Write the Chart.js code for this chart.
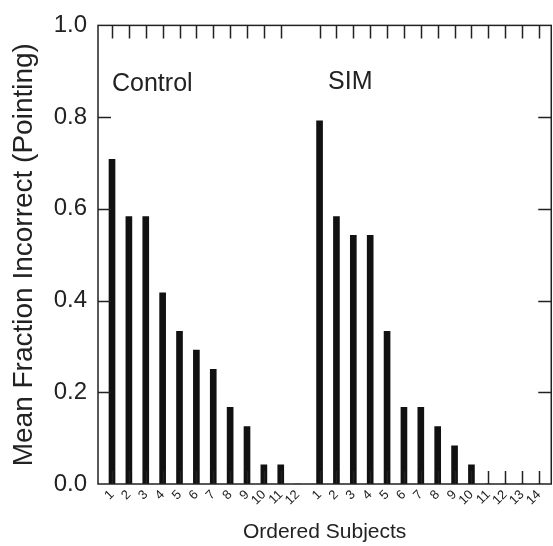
<!DOCTYPE html>
<html>
<head>
<meta charset="utf-8">
<script src="https://cdn.jsdelivr.net/npm/chart.js@4"></script>
<style>
  html, body { margin: 0; padding: 0; background: #fff; }
  #wrap { width: 553px; height: 546px; }
</style>
</head>
<body>
<div id="wrap"><canvas id="c" width="553" height="546"></canvas></div>
<script>
// datos (fraccion media de errores, sujetos ordenados)
const controlLabels = ['1','2','3','4','5','6','7','8','9','10','11','12'];
const controlValues = [0.708, 0.583, 0.583, 0.417, 0.333, 0.292, 0.25, 0.167, 0.125, 0.042, 0.042, 0];
const simLabels = ['1','2','3','4','5','6','7','8','9','10','11','12','13','14'];
const simValues = [0.792, 0.583, 0.542, 0.542, 0.333, 0.167, 0.167, 0.125, 0.083, 0.042, 0, 0, 0, 0];
const yTicks = [0, 0.2, 0.4, 0.6, 0.8, 1.0];
const groupNames = ['Control', 'SIM'];

// posicion en el eje x: control en 1..12, SIM desplazado tras un hueco
const simOffset = 12.3;
const controlX = controlLabels.map((_, i) => i + 1);
const simX = simLabels.map((_, i) => simOffset + i + 1);
const allX = [...controlX, ...simX];
const allLabels = [...controlLabels, ...simLabels];
// el sujeto 12 de control no lleva marca en el eje
const markX = [...controlX.slice(0, 11), ...simX];

const FONT = '"Liberation Sans", Arial, sans-serif';
const INK = '#222';

const frame = {
  id: 'frame',
  afterDatasetsDraw(chart) {
    const { ctx, chartArea: a, scales: { x, y } } = chart;
    ctx.save();
    ctx.strokeStyle = INK;
    ctx.lineWidth = 1.5;
    ctx.strokeRect(a.left, a.top, a.right - a.left, a.bottom - a.top);
    ctx.beginPath();
    yTicks.slice(1, -1).forEach(v => {
      const py = Math.round(y.getPixelForValue(v)) + 0.5;
      ctx.moveTo(a.left, py); ctx.lineTo(a.left + 13, py);
      ctx.moveTo(a.right, py); ctx.lineTo(a.right - 13, py);
    });
    markX.forEach(v => {
      const px = Math.round(x.getPixelForValue(v)) + 0.5;
      ctx.moveTo(px, a.top); ctx.lineTo(px, a.top + 13);
      ctx.moveTo(px, a.bottom); ctx.lineTo(px, a.bottom - 13);
    });
    ctx.stroke();
    // etiquetas de grupo
    ctx.fillStyle = INK;
    ctx.font = '25px ' + FONT;
    ctx.textAlign = 'left';
    ctx.textBaseline = 'middle';
    ctx.fillText(groupNames[0], x.getPixelForValue(controlX[0]), y.getPixelForValue(0.873));
    ctx.fillText(groupNames[1], x.getPixelForValue(simX[0] + 0.5), y.getPixelForValue(0.877));
    ctx.restore();
  }
};

new Chart(document.getElementById('c'), {
  type: 'bar',
  data: {
    datasets: [
      { label: groupNames[0], data: controlX.map((v, i) => ({ x: v, y: controlValues[i] })),
        backgroundColor: '#111', barThickness: 6 },
      { label: groupNames[1], data: simX.map((v, i) => ({ x: v, y: simValues[i] })),
        backgroundColor: '#111', barThickness: 6 }
    ]
  },
  options: {
    responsive: false,
    animation: false,
    grouped: false,
    layout: { padding: { top: 25, right: 1, left: 0, bottom: 0 } },
    plugins: { legend: { display: false }, tooltip: { enabled: false } },
    scales: {
      x: {
        type: 'linear',
        min: 0.17,
        max: 27.03,
        offset: false,
        grid: { display: false, drawTicks: false },
        border: { display: false },
        afterBuildTicks: s => { s.ticks = allX.map(v => ({ value: v })); },
        afterFit: s => { s.height = 62; },
        ticks: {
          autoSkip: false,
          minRotation: 45,
          maxRotation: 45,
          padding: 3,
          color: INK,
          font: { family: FONT, size: 13 },
          callback: (v, i) => allLabels[i]
        },
        title: {
          display: true,
          text: 'Ordered Subjects',
          color: INK,
          font: { family: FONT, size: 21 },
          padding: { top: 0, bottom: 1 }
        }
      },
      y: {
        min: 0,
        max: 1,
        grid: { display: false, drawTicks: false },
        border: { display: false },
        afterBuildTicks: s => { s.ticks = yTicks.map(v => ({ value: v })); },
        afterFit: s => { s.width = 98; },
        ticks: {
          padding: 11,
          color: INK,
          font: { family: FONT, size: 24 },
          callback: v => v.toFixed(1)
        },
        title: {
          display: true,
          text: 'Mean Fraction Incorrect (Pointing)',
          color: INK,
          font: { family: FONT, size: 28 },
          padding: { top: 7, bottom: 0 }
        }
      }
    }
  },
  plugins: [frame]
});
</script>
</body>
</html>
